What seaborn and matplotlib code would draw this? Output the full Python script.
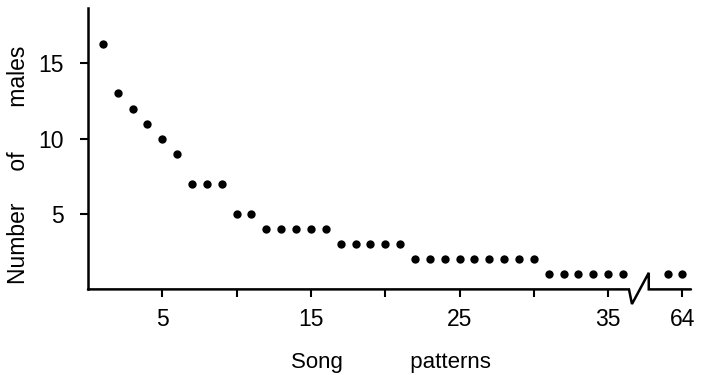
import matplotlib
matplotlib.use("Agg")
import matplotlib.pyplot as plt
import matplotlib.transforms as mtransforms
import seaborn as sns
import pandas as pd

# song pattern rank and number of males singing it
pattern = list(range(1, 37)) + [63, 64]
males = [16.3, 13, 12, 11, 10, 9,
         7, 7, 7,
         5, 5,
         4, 4, 4, 4, 4,
         3, 3, 3, 3, 3,
         2, 2, 2, 2, 2, 2, 2, 2, 2,
         1, 1, 1, 1, 1, 1,
         1, 1]

x_ticks = [5, 10, 15, 20, 25, 30, 35, 64]
x_tick_labels = ["5", "", "15", "", "25", "", "35", "64"]
y_ticks = [5, 10, 15]

# axis is broken between 36 and 63
break_after = 36
break_skip = 24

df = pd.DataFrame({"pattern": pattern, "males": males})
df["pos"] = df["pattern"].where(df["pattern"] <= break_after, df["pattern"] - break_skip)

sns.set_style("ticks")
plt.rcParams["font.family"] = ["Liberation Sans", "DejaVu Sans"]

fig = plt.figure(figsize=(7.05, 3.75), dpi=100)
ax = fig.add_axes([0.1248, 0.2283, 0.8553, 0.7504])

sns.scatterplot(data=df, x="pos", y="males", color="black", s=36,
                linewidth=0, ax=ax, legend=False)

ax.set_xlim(0, 40.57)
ax.set_ylim(0, 18.67)

tick_pos = [t if t <= break_after else t - break_skip for t in x_ticks]
ax.set_xticks(tick_pos)
ax.set_xticklabels(x_tick_labels)
ax.set_yticks(y_ticks)
ax.set_yticklabels([str(t) for t in y_ticks])

ax.tick_params(axis="x", direction="out", length=5.8, width=1.5,
               pad=7.5, labelsize=16.5, colors="black")
ax.tick_params(axis="y", direction="out", length=5.8, width=1.5,
               pad=11.5, labelsize=16.5, colors="black")

sns.despine(ax=ax, top=True, right=True)
ax.spines["bottom"].set_visible(False)
ax.spines["left"].set_linewidth(1.8)
ax.spines["left"].set_color("black")

# bottom axis line with the break mark
trans = mtransforms.blended_transform_factory(ax.transData, ax.transAxes)
xr = ax.get_xlim()[1]
ax.plot([0, 36.4, 36.6, 37.73, 37.73, xr], [0, 0, -0.052, 0.059, 0, 0],
        color="black", lw=1.8, transform=trans, clip_on=False,
        solid_joinstyle="miter")

ax.set_xlabel("Song           patterns", fontsize=16, color="black")
ax.set_ylabel("Number     of       males", fontsize=16.5, color="black")
ax.xaxis.set_label_coords(0.503, -0.222)
ax.yaxis.set_label_coords(-0.096, 0.444)

fig.savefig("out.png", dpi=100)
